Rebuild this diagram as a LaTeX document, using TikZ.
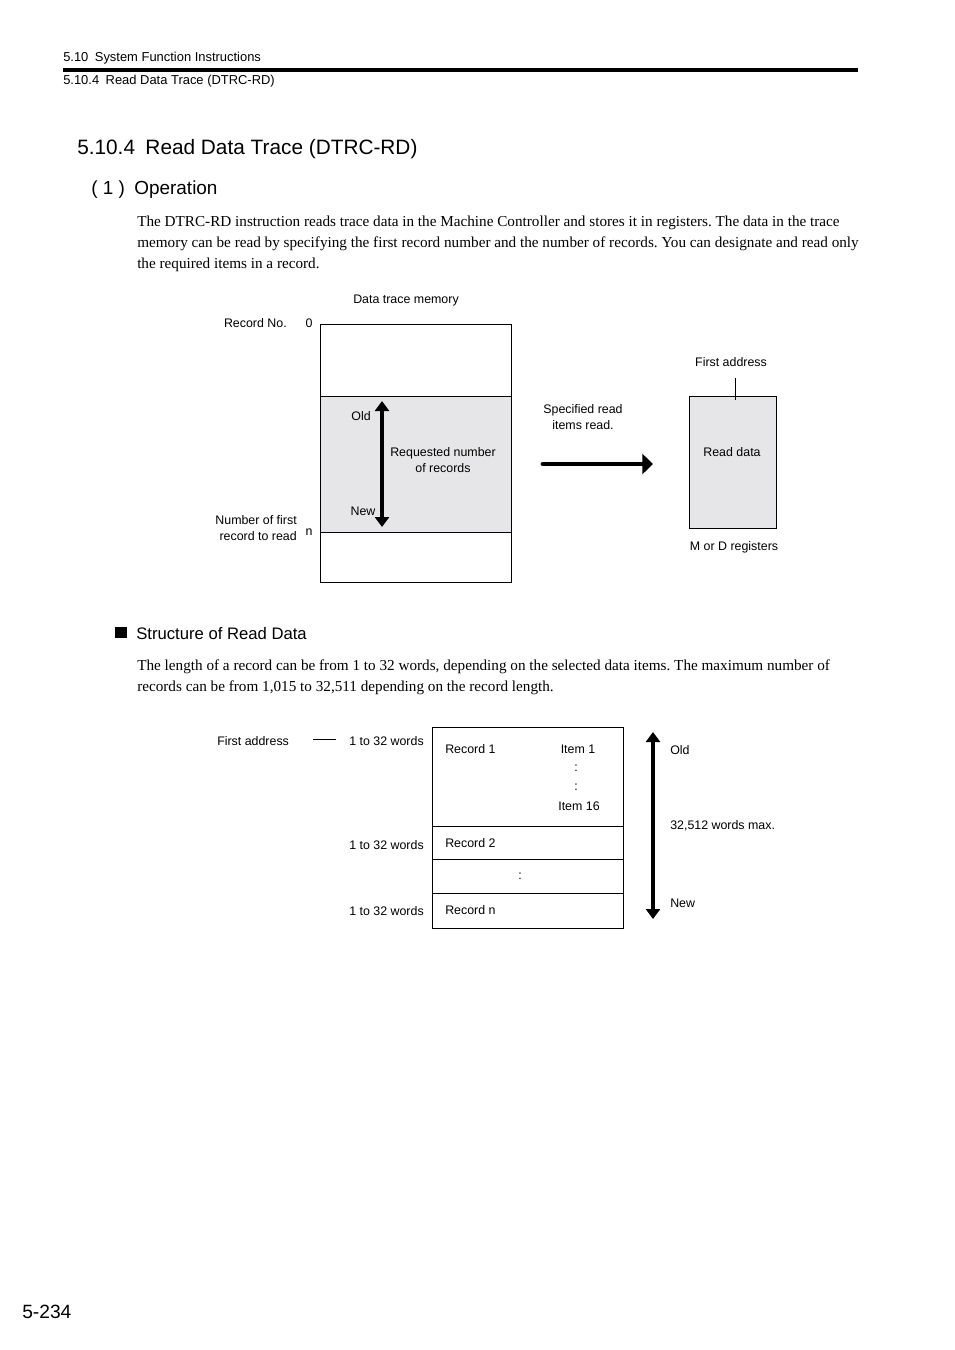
\documentclass[tikz,border=0pt]{standalone}
\usepackage{fontspec}
\setmainfont{Liberation Serif}
\setsansfont{Liberation Sans}
\usepackage{tikz}
\usetikzlibrary{arrows.meta,positioning}
\definecolor{selgray}{RGB}{230,230,232}
\tikzstyle{diagtext} = [inner sep=0pt, font=\sffamily\fontsize{9.3}{12}\selectfont]
\tikzstyle{bodytext} = [inner sep=0pt, anchor=base west, font=\rmfamily\fontsize{11.4}{14}\selectfont\frenchspacing]
\tikzstyle{membox} = [rectangle, draw=black, line width=0.6pt, minimum width=143.25pt, outer sep=0pt, inner sep=0pt]
\tikzstyle{spanarrow} = [line width=3pt, {Triangle[width=10.5pt,length=7.5pt]}-{Triangle[width=10.5pt,length=7.5pt]}]
\tikzstyle{readarrow} = [line width=3.6pt, line cap=round, -{Triangle[width=15pt,length=8pt]}]

\begin{document}
\begin{tikzpicture}[x=0.75pt, y=-0.75pt]
    \fill[white] (0,0) rectangle (954,1350);
    \useasboundingbox (0,0) rectangle (954,1350);

    % Page header
    \node[inner sep=0pt, anchor=base west, font=\sffamily\fontsize{9.7}{11}\selectfont] (hdrsec) at (63,61) {5.10\enspace System Function Instructions};
    \fill[black] (63,68) rectangle (858,72);
    \node[inner sep=0pt, anchor=base west, font=\sffamily\fontsize{9.7}{11}\selectfont] (hdrsub) at (63,84) {5.10.4\enspace Read Data Trace (DTRC-RD)};

    % Headings and text
    \node[inner sep=0pt, anchor=base west, font=\sffamily\fontsize{15.6}{18}\selectfont] (title) at (77,154) {5.10.4\enspace Read Data Trace (DTRC-RD)};
    \node[inner sep=0pt, anchor=base west, font=\sffamily\fontsize{14.2}{17}\selectfont] (oper) at (91,194) {( 1 )\enspace Operation};
    \node[bodytext] (bodya) at (137,226) {The DTRC-RD instruction reads trace data in the Machine Controller and stores it in registers. The data in the trace};
    \node[bodytext] (bodyb) at (137,247) {memory can be read by specifying the first record number and the number of records. You can designate and read only};
    \node[bodytext] (bodyc) at (137,268) {the required items in a record.};

    % Data trace memory
    \node[diagtext] (memtitle) at (406,301) {Data trace memory};
    \node[membox, minimum height=54pt] (memtop) at (415.5,360) {};
    \node[membox, minimum height=102pt, fill=selgray, below=0pt of memtop] (memsel) {};
    \node[membox, minimum height=37.5pt, below=0pt of memsel] (membot) {};
    \node[diagtext, anchor=east] (recno) at (287,323) {Record No.};
    \node[diagtext] (reczero) at (309,323) {0};
    \node[diagtext, anchor=east, align=right] (firstrec) at (297,528) {Number of first\\record to read};
    \node[diagtext] (recn) at (309,532) {n};

    % Old / new span
    \coordinate (oldend) at (382,401);
    \coordinate (newend) at (382,527);
    \draw[spanarrow] (oldend) -- (newend);
    \node[diagtext] (oldlbl) at (361,416) {Old};
    \node[diagtext] (newlbl) at (363,511) {New};
    \node[diagtext, align=center] (reqnum) at (443,460) {Requested number\\of records};

    % Read arrow
    \node[diagtext, align=center] (spec) at (583,417) {Specified read\\items read.};
    \coordinate (readfrom) at (543,464);
    \coordinate (readto) at (653,464);
    \draw[readarrow] (readfrom) -- (readto);

    % Registers
    \node[membox, minimum width=65.25pt, minimum height=99pt, fill=selgray] (regs) at (732.5,462) {};
    \node[diagtext] (readdata) at (732,452) {Read data};
    \node[diagtext] (firstaddr) at (731,362) {First address};
    \coordinate (faup) at (735,378);
    \coordinate (fadown) at (735,400);
    \draw[line width=0.6pt] (faup) -- (fadown);
    \node[diagtext] (mord) at (734,547) {M or D registers};

    % Structure of read data
    \fill[black] (115,627) rectangle (127,638);
    \node[inner sep=0pt, anchor=west, font=\sffamily\fontsize{12.5}{15}\selectfont] (struct) at (136,634) {Structure of Read Data};
    \node[bodytext] (bodyd) at (137,670) {The length of a record can be from 1 to 32 words, depending on the selected data items. The maximum number of};
    \node[bodytext] (bodye) at (137,691) {records can be from 1,015 to 32,511 depending on the record length.};

    % Record table
    \node[membox, minimum height=74.25pt] (rec1) at (527.5,776.5) {};
    \node[membox, minimum height=24.75pt, below=0pt of rec1] (rec2) {};
    \node[membox, minimum height=25.5pt, below=0pt of rec2] (recdots) {};
    \node[membox, minimum height=26.25pt, below=0pt of recdots] (recnrow) {};
    \node[diagtext, anchor=west] (rec1lbl) at (445,749) {Record 1};
    \node[diagtext] (item1) at (578,749) {Item 1};
    \node[diagtext] (itemdota) at (576,768) {:};
    \node[diagtext] (itemdotb) at (576,787) {:};
    \node[diagtext] (item16) at (579,806) {Item 16};
    \node[diagtext, anchor=west] (rec2lbl) at (445,843) {Record 2};
    \node[diagtext] (recdotlbl) at (520,876) {:};
    \node[diagtext, anchor=west] (recnlbl) at (445,910) {Record n};

    % Word counts
    \node[diagtext, anchor=west] (firstaddrb) at (217,741) {First address};
    \coordinate (fbleft) at (313,739);
    \coordinate (fbright) at (336,739);
    \draw[line width=0.6pt] (fbleft) -- (fbright);
    \node[diagtext, anchor=east] (wordsa) at (424,741) {1 to 32 words};
    \node[diagtext, anchor=east] (wordsb) at (424,845) {1 to 32 words};
    \node[diagtext, anchor=east] (wordsc) at (424,911) {1 to 32 words};

    % Total span
    \coordinate (topend) at (653,732);
    \coordinate (botend) at (653,919);
    \draw[spanarrow] (topend) -- (botend);
    \node[diagtext, anchor=west] (oldb) at (670,750) {Old};
    \node[diagtext, anchor=west] (maxwords) at (670,826) {32,512 words max.};
    \node[diagtext, anchor=west] (newb) at (670,903) {New};

    % Page number
    \node[inner sep=0pt, anchor=west, font=\sffamily\fontsize{14.4}{17}\selectfont] (pageno) at (22,1312) {5-234};
\end{tikzpicture}
\end{document}
